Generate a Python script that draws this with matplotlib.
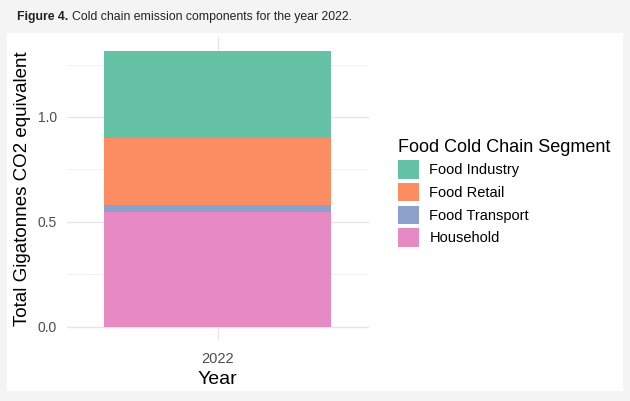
import matplotlib.pyplot as plt
from matplotlib.patches import Rectangle

plt.rcParams['font.family'] = ['Liberation Sans', 'DejaVu Sans']

years = ["2022"]
segments = ["Household", "Food Transport", "Food Retail", "Food Industry"]
values = [0.549, 0.030, 0.322, 0.413]
colors = ["#E78AC3", "#8DA0CB", "#FC8D62", "#66C2A5"]

fig = plt.figure(figsize=(6.3, 4.01), dpi=100)
fig.patch.set_facecolor("#f4f4f4")

# white card behind the chart
fig.patches.append(Rectangle((7 / 630, 10 / 401), 616 / 630, 358 / 401,
                             transform=fig.transFigure, facecolor="white",
                             edgecolor="none", zorder=-5))

fig.text(17 / 630, 1 - 20 / 401, "Figure 4.", fontsize=8.8, fontweight="bold",
         color="#222222", va="baseline")
fig.text(72 / 630, 1 - 20 / 401, "Cold chain emission components for the year 2022.",
         fontsize=8.8, color="#222222", va="baseline")

ax = fig.add_axes([66.6 / 630, 1 - 340.4 / 401, 302.2 / 630, 303 / 401])
ax.set_facecolor("white")

bottom = 0
for seg, v, c in zip(segments, values, colors):
    ax.bar(0, v, width=0.9, bottom=bottom, color=c, label=seg, zorder=2)
    bottom += v

total = sum(values)
ax.set_xlim(-0.6, 0.6)
ax.set_ylim(-0.05 * total, total * 1.05)
ax.set_xticks([0])
ax.set_xticklabels(years)
ax.set_yticks([0, 0.5, 1.0])
ax.set_yticklabels(["0.0", "0.5", "1.0"])
ax.set_yticks([0.25, 0.75, 1.25], minor=True)
ax.grid(True, which="major", color="#e6e6e6", linewidth=1.0, zorder=0)
ax.grid(True, which="minor", axis="y", color="#f0f0f0", linewidth=0.6, zorder=0)
ax.tick_params(which="both", length=0)
ax.tick_params(axis="y", labelsize=10, labelcolor="#4d4d4d", pad=7)
ax.tick_params(axis="x", labelsize=10.5, labelcolor="#4d4d4d", pad=8)
for s in ax.spines.values():
    s.set_visible(False)

ax.set_xlabel("Year", fontsize=14, color="black", labelpad=4)
ax.set_ylabel("Total Gigatonnes CO2 equivalent", fontsize=13.5, color="black", labelpad=5)

handles, labels = ax.get_legend_handles_labels()
leg = fig.legend(handles[::-1], labels[::-1], title="Food Cold Chain Segment",
                 loc="upper left", bbox_to_anchor=(385 / 630, 1 - 126 / 401),
                 frameon=False, fontsize=10.5, title_fontsize=13,
                 handlelength=1.4, handleheight=1.55, handletextpad=0.75,
                 labelspacing=0.3, alignment="left")

fig.savefig("out.png", dpi=100, facecolor=fig.get_facecolor())
